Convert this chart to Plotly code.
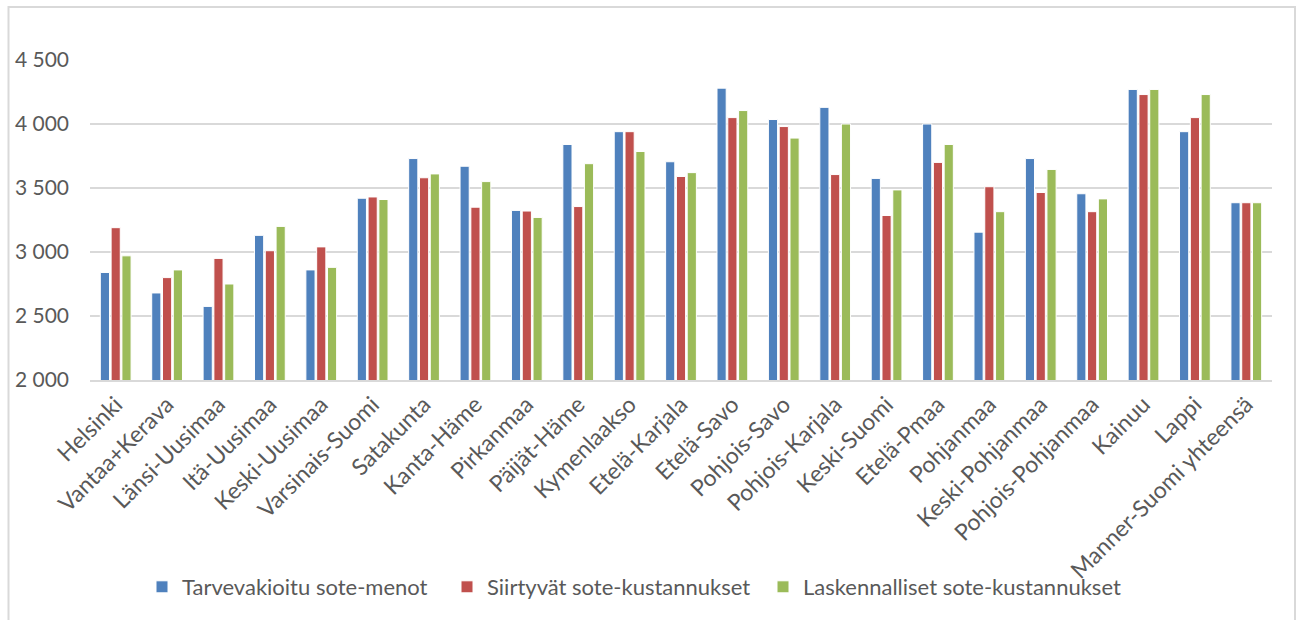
import plotly.graph_objects as go

categories = ["Helsinki", "Vantaa+Kerava", "Länsi-Uusimaa", "Itä-Uusimaa", "Keski-Uusimaa",
              "Varsinais-Suomi", "Satakunta", "Kanta-Häme", "Pirkanmaa", "Päijät-Häme",
              "Kymenlaakso", "Etelä-Karjala", "Etelä-Savo", "Pohjois-Savo", "Pohjois-Karjala",
              "Keski-Suomi", "Etelä-Pmaa", "Pohjanmaa", "Keski-Pohjanmaa", "Pohjois-Pohjanmaa",
              "Kainuu", "Lappi", "Manner-Suomi yhteensä"]

tarvevakioitu = [2840, 2680, 2575, 3130, 2860, 3420, 3730, 3670, 3325, 3840, 3940, 3705,
                 4280, 4035, 4130, 3575, 4000, 3155, 3730, 3455, 4270, 3940, 3385]
siirtyvat = [3190, 2800, 2950, 3010, 3040, 3430, 3580, 3350, 3320, 3355, 3940, 3590,
             4050, 3980, 3605, 3285, 3700, 3510, 3465, 3315, 4230, 4050, 3385]
laskennalliset = [2970, 2860, 2750, 3200, 2880, 3410, 3610, 3550, 3270, 3690, 3785, 3620,
                  4105, 3890, 4000, 3485, 3840, 3315, 3645, 3415, 4270, 4230, 3385]

series_names = ["Tarvevakioitu sote-menot", "Siirtyvät sote-kustannukset",
                "Laskennalliset sote-kustannukset"]
colors = ["#4F81BD", "#C0504D", "#9BBB59"]

W, H = 1299, 620
L, R, T, B = 90, 1272, 60, 380


def xp(px):
    return (px - L) / (R - L)


def yp(py):
    return (B - py) / (B - T)


legend_ids = ["legend", "legend2", "legend3"]
legend_left_px = [142, 447, 763]

fig = go.Figure()
for name, vals, col, lid in zip(series_names, [tarvevakioitu, siirtyvat, laskennalliset],
                                colors, legend_ids):
    fig.add_trace(go.Bar(x=categories, y=vals, name=name, legend=lid, showlegend=True,
                         marker=dict(color=col, line=dict(color="white", width=1))))

font_family = "Lato, 'Open Sans', sans-serif"
layout_legends = {}
for lid, lx in zip(legend_ids, legend_left_px):
    layout_legends[lid] = dict(orientation="h", x=xp(lx), xanchor="left", y=yp(587),
                               yanchor="middle", font=dict(size=22, color="#595959"),
                               bgcolor="rgba(0,0,0,0)")

fig.update_layout(
    width=W, height=H,
    showlegend=True,
    margin=dict(l=L, r=W - R, t=T, b=H - B, autoexpand=False),
    paper_bgcolor="white", plot_bgcolor="white",
    barmode="group", bargap=0.37, bargroupgap=0.15,
    separators=", ",
    font=dict(family=font_family, color="#595959"),
    xaxis=dict(tickangle=-45, tickfont=dict(size=23, color="#595959"),
               showline=True, linecolor="#d9d9d9", linewidth=2,
               showgrid=False, ticks=""),
    yaxis=dict(range=[2000, 4500], dtick=500, tickformat=",d",
               tickfont=dict(size=21, color="#595959"),
               showgrid=True, gridcolor="#d9d9d9", gridwidth=2,
               zeroline=False, ticks="", ticklabelstandoff=20),
    shapes=[dict(type="rect", xref="paper", yref="paper",
                 x0=xp(8.5), x1=xp(1295), y0=yp(640), y1=yp(7),
                 line=dict(color="#d9d9d9", width=2), fillcolor="rgba(0,0,0,0)", layer="below")],
    **layout_legends,
)

fig.write_html("out.html")
